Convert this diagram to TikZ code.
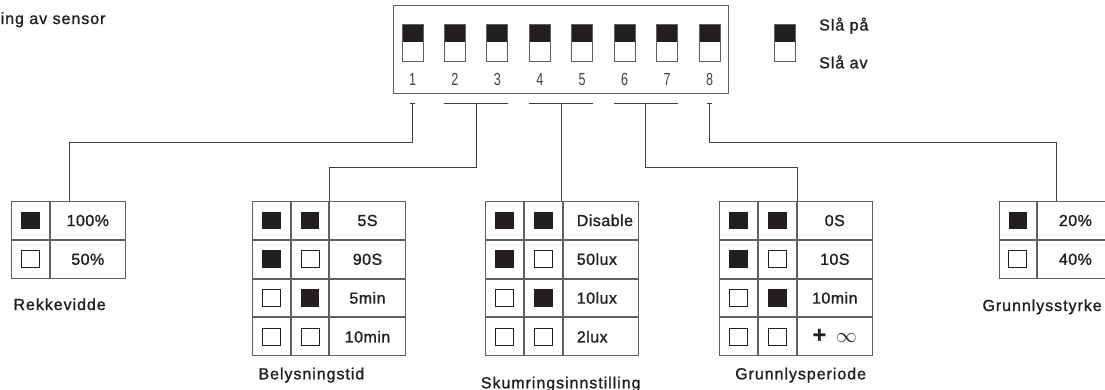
\documentclass[tikz,border=0pt]{standalone}
\usepackage{graphicx}
\usepackage{fontspec}
\setmainfont{Liberation Sans}[LetterSpace=6]
\newfontfamily\medfont{Liberation Sans}[LetterSpace=6, FakeBold=1.2]
\newfontfamily\cellfont{Liberation Sans}[LetterSpace=3, FakeBold=1.2]
\usetikzlibrary{matrix,positioning}
\definecolor{markblack}{HTML}{231F20}
\definecolor{gridgray}{HTML}{606060}
\definecolor{wiregray}{HTML}{404040}

\begin{document}
\begin{tikzpicture}[x=1pt, y=-1pt,
    txt/.style={inner sep=0pt, text=markblack, font=\medfont\fontsize{16}{18}\selectfont},
    digit/.style={inner sep=0pt, text=markblack!85, font=\fontsize{17.5}{18}\selectfont},
    wire/.style={draw=wiregray, line width=0.9pt},
    switchbox/.style={draw=gridgray, line width=0.9pt, minimum width=21pt,
      minimum height=37pt, inner sep=0pt,
      path picture={\fill[markblack] (path picture bounding box.north west)
        rectangle (path picture bounding box.east);}},
    cell/.style={draw=gridgray, line width=0.9pt, minimum width=37.8pt,
      minimum height=37.9pt, inner sep=0pt, outer sep=0pt, text height=11.5pt,
      text depth=0pt, text=markblack, font=\cellfont\fontsize{16}{18}\selectfont},
    on/.style={path picture={\fill[markblack]
        ([shift={(-9.3pt,-8.8pt)}]path picture bounding box.center) rectangle
        ([shift={(9.3pt,8.8pt)}]path picture bounding box.center);}},
    off/.style={path picture={\draw[markblack, line width=0.8pt]
        ([shift={(-9pt,-8.5pt)}]path picture bounding box.center) rectangle
        ([shift={(9pt,8.5pt)}]path picture bounding box.center);}},
    table/.style={matrix of nodes, nodes in empty cells, anchor=north west,
      inner sep=0pt, column sep=0pt, row sep=0pt, nodes={cell}},
  ]
  \useasboundingbox (0,0) rectangle (1105,390);

  % title, cut at the left edge
  \node (title) [txt, anchor=base west] at (0.5,24) {ing av sensor};

  % dip switch block
  \node (dip) [draw=gridgray, line width=0.9pt, minimum width=335.6pt,
    minimum height=87.4pt, inner sep=0pt, anchor=north west] at (392.7,5.3) {};
  \foreach \i in {1,...,8} {
    \node (sw\i) [switchbox] at ({412.5+(\i-1)*42.43},42.5) {};
    \node (n\i) [digit, below=11.5pt of sw\i] {\scalebox{0.72}[1]{\i}};
  }

  % legend
  \node (legend) [switchbox] at (785,42.5) {};
  \node (onlabel) [txt, anchor=base west] at (819,30.5) {Slå på};
  \node (offlabel) [txt, anchor=base west] at (819,68.3) {Slå av};

  % tables
  \matrix (rek) [table, column 2/.style={nodes={minimum width=75.5pt}}]
    at (10.7,200.7) {
    |[on]|  & 100\% \\
    |[off]| & 50\%  \\
  };
  \matrix (belys) [table, column 3/.style={nodes={minimum width=75.5pt}}]
    at (251.7,200.7) {
    |[on]|  & |[on]|  & 5S    \\
    |[on]|  & |[off]| & 90S   \\
    |[off]| & |[on]|  & 5min  \\
    |[off]| & |[off]| & 10min \\
  };
  \matrix (skum) [table, column 3/.style={nodes={minimum width=75.5pt,
      text width=48pt, align=left}}]
    at (485,200.7) {
    |[on]|  & |[on]|  & Disable \\
    |[on]|  & |[off]| & 50lux   \\
    |[off]| & |[on]|  & 10lux   \\
    |[off]| & |[off]| & 2lux    \\
  };
  \matrix (grp) [table, column 3/.style={nodes={minimum width=75.5pt}}]
    at (719,200.7) {
    |[on]|  & |[on]|  & 0S    \\
    |[on]|  & |[off]| & 10S   \\
    |[off]| & |[on]|  & 10min \\
    |[off]| & |[off]| & {\fontsize{23}{23}\selectfont\bfseries +}\hspace{10pt}{\fontsize{20}{20}\selectfont$\infty$} \\
  };
  \matrix (styrke) [table, column 2/.style={nodes={minimum width=75.5pt}}]
    at (998.3,200.7) {
    |[on]|  & 20\% \\
    |[off]| & 40\% \\
  };

  % table names
  \node (rekname) [txt, anchor=base west] at (13.3,310) {Rekkevidde};
  \node (belysname) [txt, anchor=base west] at (258.3,379.3) {Belysningstid};
  \node (skumname) [txt, anchor=base west] at (480.7,388.3) {Skumringsinnstilling};
  \node (grpname) [txt, anchor=base west] at (735,379.3) {Grunnlysperiode};
  \node (styrkename) [txt, anchor=base west] at (982.3,311) {Grunnlysstyrke};

  % brackets under the switches
  \coordinate (b1) at (412.5,103.5);
  \coordinate (b23) at (476.1,103.5);
  \coordinate (b45) at (561,103.5);
  \coordinate (b67) at (645.9,103.5);
  \coordinate (b8) at (709.5,103.5);
  \draw[wire] ([xshift=-2.5pt]b1) -- ([xshift=2.5pt]b1);
  \draw[wire] (b23 -| sw2.west) -- (b23 -| sw3.east);
  \draw[wire] (b45 -| sw4.west) -- (b45 -| sw5.east);
  \draw[wire] (b67 -| sw6.west) -- (b67 -| sw7.east);
  \draw[wire] ([xshift=-2.5pt]b8) -- ([xshift=2.5pt]b8);

  % connectors
  \draw[wire] (b1) |- ([shift={(19pt,58.5pt)}]rek-1-2.north west)
    -- ([xshift=19pt]rek-1-2.north west);
  \draw[wire] (b23) |- ([yshift=34pt]belys-1-3.north west) -- (belys-1-3.north west);
  \draw[wire] (b45) -- (b45 |- skum-1-3.north west);
  \draw[wire] (b67) |- ([yshift=34pt]grp-1-3.north west) -- (grp-1-3.north west);
  \draw[wire] (b8) |- ([shift={(19pt,58.5pt)}]styrke-1-2.north west)
    -- ([xshift=19pt]styrke-1-2.north west);
\end{tikzpicture}
\end{document}
